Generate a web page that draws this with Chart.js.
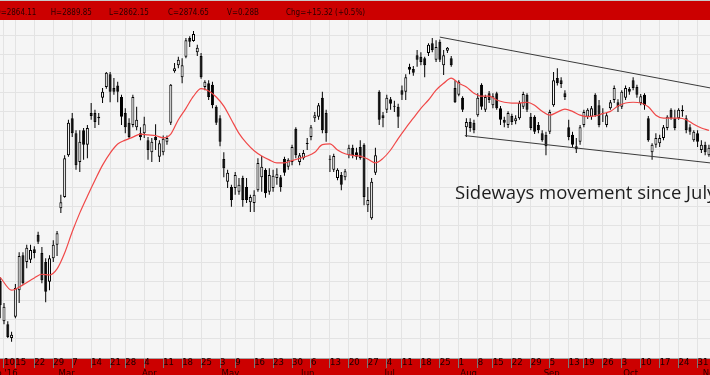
<!DOCTYPE html>
<html>
<head>
<meta charset="utf-8">
<script src="https://cdn.jsdelivr.net/npm/chart.js@4.4.1/dist/chart.umd.min.js"></script>
<style>
html,body{margin:0;padding:0;background:#f5f5f5;overflow:hidden}
canvas{display:block}
</style>
</head>
<body>
<canvas id="c" width="710" height="375"></canvas>
<script>
// ---- data (index 0 = 10 Feb 2016, one step per trading day) ----
const firstIndex = -1;
const openP = [
2601,
2548,2544,2526,2554,2589,2635,2626,2629,2643,2662,
2638,2626,2600,2631,2649,2697,2712,2767,2816,2796,
2758,2800,2781,2823,2823,2816,2843,2857,2874,2856,
2859,2844,2823,2810,2807,2804,2796,2796,2787,2771,
2791,2765,2771,2785,2810,2878,2886,2870,2897,2922,
2918,2903,2898,2857,2862,2860,2831,2816,2762,2732,
2725,2724,2719,2737,2725,2705,2704,2721,2738,2748,
2719,2724,2737,2738,2762,2752,2758,2802,2758,2763,
2782,2791,2816,2818,2843,2823,2762,2748,2737,2741,
2738,2767,2777,2771,2778,2781,2701,2684,2744,2851,
2820,2827,2841,2832,2831,2853,2851,2884,2881,2899,
2897,2895,2902,2915,2893,2917,2886,2905,2895,2856,
2847,2843,2804,2811,2810,2820,2860,2827,2849,2833,
2849,2829,2814,2807,2819,2812,2816,2831,2847,2818,
2818,2807,2796,2794,2798,2833,2869,2866,2849,2804,
2794,2779,2785,2807,2818,2818,2847,2833,2823,2807,
2829,2840,2837,2831,2843,2855,2866,2857,2836,2847,
2816,2771,2781,2783,2790,2803,2827,2816,2816,2827,
2816,2804,2787,2796,2774,2781,2767
];
const highP = [
2606,
2572,2548,2534,2597,2639,2639,2649,2649,2647,2666,
2646,2631,2635,2655,2667,2715,2767,2814,2823,2800,
2800,2803,2807,2836,2827,2823,2856,2877,2877,2869,
2864,2847,2829,2816,2847,2831,2804,2818,2791,2790,
2808,2787,2793,2793,2861,2889,2897,2895,2922,2924,
2931,2913,2902,2866,2866,2864,2833,2820,2771,2748,
2728,2745,2737,2740,2737,2715,2721,2763,2766,2750,
2750,2748,2750,2741,2765,2763,2781,2804,2770,2774,
2790,2807,2824,2836,2851,2827,2767,2769,2750,2745,
2749,2781,2781,2777,2787,2783,2725,2737,2777,2853,
2824,2847,2844,2839,2835,2859,2874,2888,2885,2906,
2903,2897,2915,2922,2919,2920,2906,2910,2898,2866,
2866,2845,2816,2816,2814,2849,2862,2847,2852,2849,
2851,2832,2818,2825,2822,2820,2839,2851,2849,2823,
2820,2811,2800,2798,2827,2877,2882,2870,2853,2814,
2798,2790,2807,2827,2829,2832,2849,2840,2829,2823,
2840,2859,2841,2853,2859,2857,2870,2860,2848,2849,
2819,2783,2796,2794,2807,2820,2829,2827,2829,2833,
2820,2808,2800,2800,2787,2785,2781
];
const lowP = [
2552,
2544,2526,2521,2552,2572,2596,2618,2625,2631,2650,
2598,2573,2589,2626,2634,2691,2711,2765,2791,2748,
2745,2761,2763,2814,2803,2807,2836,2855,2837,2847,
2837,2807,2796,2789,2804,2800,2787,2790,2761,2758,
2774,2758,2767,2781,2807,2876,2882,2862,2895,2910,
2917,2898,2868,2853,2840,2829,2807,2779,2738,2724,
2699,2715,2715,2699,2704,2692,2692,2719,2719,2711,
2715,2719,2728,2719,2740,2748,2754,2763,2754,2761,
2774,2787,2811,2814,2796,2785,2745,2745,2734,2721,
2734,2763,2763,2761,2761,2701,2692,2682,2741,2807,
2804,2823,2827,2824,2803,2840,2840,2874,2872,2884,
2886,2870,2898,2903,2890,2890,2873,2902,2884,2836,
2845,2824,2791,2798,2796,2818,2827,2824,2836,2829,
2827,2807,2804,2803,2807,2808,2814,2828,2824,2800,
2795,2796,2785,2767,2795,2831,2859,2856,2840,2787,
2778,2770,2781,2804,2815,2814,2818,2804,2811,2804,
2827,2836,2824,2828,2840,2847,2853,2843,2833,2827,
2785,2761,2777,2778,2787,2800,2814,2800,2814,2818,
2796,2794,2785,2778,2770,2767,2765
];
const closeP = [
2569,
2567,2527,2530,2592,2634,2598,2645,2642,2638,2653,
2602,2587,2631,2649,2664,2705,2763,2810,2796,2754,
2785,2781,2803,2819,2811,2818,2851,2876,2851,2851,
2851,2818,2804,2791,2844,2814,2791,2808,2774,2785,
2787,2783,2789,2790,2860,2882,2893,2886,2919,2917,
2927,2909,2870,2864,2844,2833,2810,2785,2750,2744,
2708,2741,2728,2708,2708,2712,2715,2757,2752,2717,
2741,2740,2742,2725,2744,2761,2778,2767,2767,2770,
2783,2804,2820,2833,2800,2796,2761,2766,2748,2728,
2746,2777,2767,2765,2763,2712,2708,2732,2767,2814,
2816,2843,2835,2831,2818,2847,2870,2880,2876,2893,
2890,2886,2913,2906,2910,2893,2899,2909,2886,2837,
2864,2827,2811,2803,2800,2843,2831,2844,2840,2845,
2829,2814,2810,2823,2811,2816,2836,2848,2827,2803,
2798,2800,2787,2779,2824,2866,2862,2861,2844,2791,
2781,2775,2804,2824,2827,2829,2820,2807,2822,2820,
2837,2856,2831,2851,2856,2851,2856,2847,2845,2833,
2787,2781,2790,2790,2804,2818,2816,2803,2827,2825,
2800,2798,2798,2785,2781,2771,2777
];
// moving average
const maIdx = [-1,2,5,8,10,12,14,16,18,20,22,24,26,28,30,32,34,36,38,40,42,44,46,48,50,52,54,56,58,60,62,64,66,68,70,72,74,76,78,80,82,84,86,88,90,92,94,96,98,100,102,104,106,108,110,112,114,116,118,120,122,124,126,128,130,132,134,136,138,140,142,144,146,148,150,152,154,156,158,160,162,164,166,168,170,172,174,176,178,180,182,184,186];
const maVals = [2606,2589,2596,2605,2610,2609,2617,2638,2666,2691,2713,2734,2754,2770,2782,2787,2791,2795,2794,2793,2790,2795,2814,2829,2845,2855,2852,2844,2832,2814,2796,2783,2773,2766,2761,2757,2757,2760,2763,2766,2771,2781,2782,2774,2769,2767,2766,2762,2757,2763,2774,2789,2803,2816,2829,2840,2853,2862,2869,2862,2857,2849,2845,2845,2840,2837,2836,2836,2837,2833,2825,2820,2824,2828,2825,2820,2818,2819,2822,2825,2832,2836,2837,2836,2831,2820,2816,2816,2816,2814,2808,2803,2800];
// trend channel
const trendUpper = [{x:115.0, y:2923}, {x:186.3, y:2856}];
const trendLower = [{x:121.6, y:2793}, {x:186.3, y:2757}];
// axis ticks
const weekTickIdx = [0,3,8,13,18,23,28,32,37,42,47,52,57,61,66,71,76,81,86,91,96,101,105,110,115,120,125,129,134,139,144,149,153,158,163,168,173,178,183];
const weekTickLabels = ['10','15','22','29','7','14','21','28','4','11','18','25','3','9','16','23','30','6','13','20','27','4','11','18','25','1','8','15','22','29','5','13','19','26','3','10','17','24','31'];
const monthIdx = [-5,14,36,57,78,100,120,142,163,184];
const monthLabels = ["Feb '16",'Mar','Apr','May','Jun','Jul','Aug','Sep','Oct','Nov'];
const yGridValues = [2525,2550,2575,2600,2625,2650,2675,2700,2725,2750,2775,2800,2825,2850,2875,2900,2925];
const headerLabels = ['O=2864.11','H=2889.85','L=2862.15','C=2874.65','V=0.28B','Chg=+15.32 (+0.5%)'];
const annotation = {text:'Sideways movement since July', x:119, y:2708.7};

// ---- build datasets ----
const bodyData = openP.map((o,i)=>({x:firstIndex+i, y:[o, closeP[i]]}));
const wickData = lowP.map((l,i)=>({x:firstIndex+i, y:[l, highP[i]]}));
const bodyFill = openP.map((o,i)=> closeP[i] >= o ? '#ffffff' : '#000000');
const maData = maIdx.map((x,i)=>({x:x, y:maVals[i]}));

const NARROW = "'Liberation Sans Narrow','Arial Narrow','DejaVu Sans Condensed','Liberation Sans',sans-serif";

const deco = {
  id:'deco',
  beforeDraw(chart){
    const ctx = chart.ctx, W = chart.width, H = chart.height, a = chart.chartArea;
    ctx.save();
    ctx.fillStyle = '#f5f5f5'; ctx.fillRect(0,0,W,H);
    ctx.fillStyle = '#cc0000';
    ctx.fillRect(0,1,W,19);
    ctx.fillRect(0,a.bottom,W,H-a.bottom);
    ctx.fillStyle = '#c8c8c8'; ctx.fillRect(0,0,W,1);
    ctx.restore();
  },
  afterDatasetsDraw(chart){
    const ctx = chart.ctx, xs = chart.scales.x, ys = chart.scales.y;
    ctx.save();
    ctx.font = '18.5px "Open Sans"';
    ctx.fillStyle = '#1e1e1e';
    ctx.textBaseline = 'alphabetic';
    ctx.textAlign = 'left';
    ctx.fillText(annotation.text, xs.getPixelForValue(annotation.x), ys.getPixelForValue(annotation.y));
    ctx.restore();
  },
  afterDraw(chart){
    const ctx = chart.ctx, xs = chart.scales.x;
    ctx.save();
    ctx.fillStyle = '#2a0000';
    ctx.textBaseline = 'alphabetic';
    ctx.textAlign = 'left';
    ctx.font = '8px ' + NARROW;
    const hx = [-5, 50.7, 109, 168, 227, 286];
    headerLabels.forEach((t,i)=> ctx.fillText(t, hx[i], 15));
    ctx.font = '9.5px ' + NARROW;
    monthLabels.forEach((t,i)=> ctx.fillText(t, xs.getPixelForValue(monthIdx[i]) + 1.5, 376));
    ctx.restore();
  }
};

new Chart(document.getElementById('c'), {
  type: 'bar',
  data: {
    datasets: [
      {type:'line', data: maData, borderColor:'#f04848', borderWidth:1.2, pointRadius:0, tension:0.35, cubicInterpolationMode:'monotone', order:0},
      {type:'line', data: trendUpper, borderColor:'#3a3a3a', borderWidth:1, pointRadius:0, order:0},
      {type:'line', data: trendLower, borderColor:'#3a3a3a', borderWidth:1, pointRadius:0, order:0},
      {type:'bar', data: bodyData, backgroundColor: bodyFill, borderColor:'#000000', borderWidth:1, borderSkipped:false,
        barThickness:3, maxBarThickness:3, grouped:false, inflateAmount:0, minBarLength:1, order:1},
      {type:'bar', data: wickData, backgroundColor:'#000000', borderWidth:0,
        barThickness:1, maxBarThickness:1, grouped:false, inflateAmount:0, order:2}
    ]
  },
  options: {
    responsive:false, maintainAspectRatio:false, animation:false, events:[],
    layout:{padding:{top:20,left:0,right:0,bottom:0}},
    plugins:{legend:{display:false}, tooltip:{enabled:false}},
    scales:{
      x:{
        type:'linear', position:'bottom', min:-1.0554, max:186.28, offset:false, bounds:'data',
        grid:{offset:false, color:'#e3e3e3', lineWidth:1, drawTicks:true, tickLength:10, tickColor:'#7a7a7a', tickWidth:1},
        border:{display:true, color:'#a8a8a8', width:1},
        ticks:{autoSkip:false, maxRotation:0, minRotation:0, align:'start', padding:-11, color:'#1a0000',
          font:{family:NARROW, size:9.5},
          callback:(v)=>{ const k = weekTickIdx.indexOf(v); return k>=0 ? weekTickLabels[k] : ''; }},
        afterBuildTicks:(s)=>{ s.ticks = weekTickIdx.map(v=>({value:v})); },
        afterFit:(s)=>{ s.height = 17; }
      },
      y:{
        type:'linear', position:'left', min:2499.44, max:2945.6,
        grid:{color:'#e3e3e3', drawTicks:false},
        border:{display:false},
        ticks:{display:false},
        afterBuildTicks:(s)=>{ s.ticks = yGridValues.map(v=>({value:v})); },
        afterFit:(s)=>{ s.width = 0; }
      }
    }
  },
  plugins:[deco]
});
</script>
</body>
</html>
